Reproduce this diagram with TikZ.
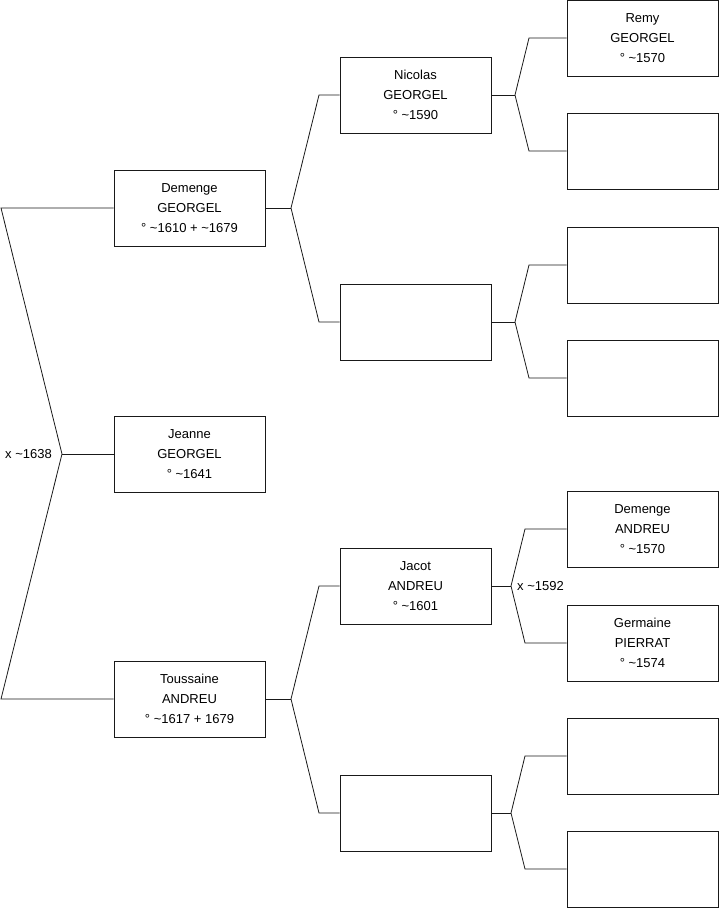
\documentclass[tikz,border=0pt]{standalone}
\usepackage{fontspec}
\setmainfont{Liberation Sans}
\usetikzlibrary{positioning}

\begin{document}
\begin{tikzpicture}[
  x=1pt, y=-1pt,
  person/.style={draw=black!90, rectangle, line width=0.8pt,
                 minimum width=151pt, minimum height=76pt, inner sep=0pt,
                 align=center, font=\fontsize{13}{20}\selectfont},
  link/.style={draw=black!90, line width=0.8pt},
  union/.style={font=\fontsize{13}{15}\selectfont, inner sep=1pt},
]
\useasboundingbox (0,0) rectangle (719,908);

%% Generation 1
\node[person] (demenge)   at (189.5,208) {Demenge\\ GEORGEL\\ ° \textasciitilde1610 + \textasciitilde1679};
\node[person] (jeanne)    at (189.5,454) {Jeanne\\ GEORGEL\\ ° \textasciitilde1641};
\node[person] (toussaine) at (189.5,699) {Toussaine\\ ANDREU\\ ° \textasciitilde1617 + 1679};

%% Generation 2
\node[person] (nicolas) at (415.5,95)  {Nicolas\\ GEORGEL\\ ° \textasciitilde1590};
\node[person] (emptyA)  at (415.5,322) {};
\node[person] (jacot)   at (415.5,586) {Jacot\\ ANDREU\\ ° \textasciitilde1601};
\node[person] (emptyB)  at (415.5,813) {};

%% Generation 3
\node[person] (remy)     at (642.5,38)  {Remy\\ GEORGEL\\ ° \textasciitilde1570};
\node[person] (emptyC)   at (642.5,151) {};
\node[person] (emptyD)   at (642.5,265) {};
\node[person] (emptyE)   at (642.5,378) {};
\node[person] (demengeA) at (642.5,529) {Demenge\\ ANDREU\\ ° \textasciitilde1570};
\node[person] (germaine) at (642.5,643) {Germaine\\ PIERRAT\\ ° \textasciitilde1574};
\node[person] (emptyF)   at (642.5,756) {};
\node[person] (emptyG)   at (642.5,869) {};

%% Forks
\coordinate (m0) at (62,454);
\coordinate (k0) at (1,0);
\coordinate (m1) at (291,208);
\coordinate (m2) at (291,699);
\coordinate (k1) at (319,0);
\coordinate (m3) at (515,95);
\coordinate (m4) at (515,322);
\coordinate (k2) at (529,0);
\coordinate (m5) at (511,586);
\coordinate (m6) at (511,813);
\coordinate (k3) at (525,0);

%% Links
\draw[link] (demenge.west) -- (demenge.west -| k0) -- (m0)
  -- (toussaine.west -| k0) -- (toussaine.west);
\draw[link] (m0) -- (jeanne.west);
\node[union, left=9pt of m0] (m0lab) {x \textasciitilde1638};

\draw[link] (demenge.east) -- (m1);
\draw[link] (nicolas.west) -- (nicolas.west -| k1) -- (m1)
  -- (emptyA.west -| k1) -- (emptyA.west);
\draw[link] (toussaine.east) -- (m2);
\draw[link] (jacot.west) -- (jacot.west -| k1) -- (m2)
  -- (emptyB.west -| k1) -- (emptyB.west);

\draw[link] (nicolas.east) -- (m3);
\draw[link] (remy.west) -- (remy.west -| k2) -- (m3)
  -- (emptyC.west -| k2) -- (emptyC.west);
\draw[link] (emptyA.east) -- (m4);
\draw[link] (emptyD.west) -- (emptyD.west -| k2) -- (m4)
  -- (emptyE.west -| k2) -- (emptyE.west);
\draw[link] (jacot.east) -- (m5);
\draw[link] (demengeA.west) -- (demengeA.west -| k3) -- (m5)
  -- (germaine.west -| k3) -- (germaine.west);
\node[union, right=5pt of m5] (m5lab) {x \textasciitilde1592};
\draw[link] (emptyB.east) -- (m6);
\draw[link] (emptyF.west) -- (emptyF.west -| k3) -- (m6)
  -- (emptyG.west -| k3) -- (emptyG.west);

\end{tikzpicture}
\end{document}
